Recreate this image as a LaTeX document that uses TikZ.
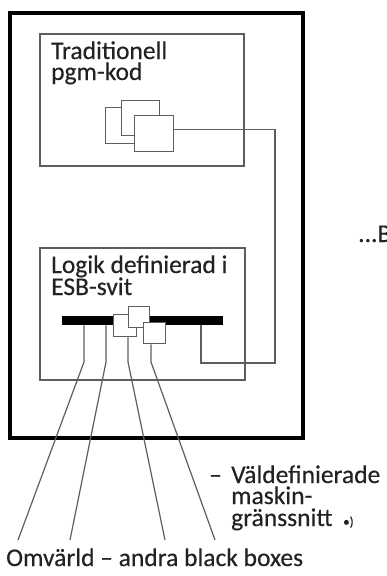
\documentclass[tikz,border=0pt]{standalone}
\usepackage{fontspec}
\setmainfont[UprightFeatures={FakeBold=0.3}]{Carlito}
\usetikzlibrary{calc}
\definecolor{lg}{HTML}{5E5E5E}
\definecolor{tc}{HTML}{222222}
\begin{document}
\begin{tikzpicture}[x=1pt,y=-1pt,
  gbox/.style={draw=lg, line width=1.4pt},
  sq/.style={draw=lg, line width=1.4pt, fill=white, inner sep=0pt, anchor=north west},
  wire/.style={draw=lg, line width=1.2pt},
  lbl/.style={font=\fontsize{25.5}{26}\selectfont, text=tc, inner sep=0pt, anchor=base west, text height=15pt, text depth=4pt}]
\useasboundingbox (0,0) rectangle (386,576);
\fill[white] (0,0) rectangle (386,576);
% outer black box
\draw[line width=4pt] (10,13) rectangle (303,438);
% inner boxes
\draw[gbox] (40,34) rectangle (244,166);
\draw[gbox] (40,248) rectangle (245,380);
% texts
\node[lbl] (t1a) at (51,59) {Traditionell};
\node[lbl] (t1b) at (51,80) {pgm-kod};
\node[lbl] (t2a) at (51,273) {Logik definierad i};
\node[lbl] (t2b) at (51,295) {ESB-svit};
\node[lbl] (dots) at (358,242) {...B};
\node[lbl] (vd) at (209,483) {–};
\node[lbl] (v1) at (231,483) {Väldefinierade};
\node[lbl] (v2) at (231,504) {maskin-};
\node[lbl] (v3) at (231,526) {gränssnitt};
\node[lbl, font=\fontsize{13}{13}\selectfont, text height=9pt, text depth=3pt] (note) at (343,526) {•)};
\node[lbl] (omv) at (6,566) {Omvärld – andra black boxes};
% upper squares
\node[sq, minimum width=37pt, minimum height=36pt] (s1) at (105,107) {};
\node[sq, minimum width=38pt, minimum height=35pt] (s2) at (121,100) {};
\node[sq, minimum width=39pt, minimum height=36pt] (s3) at (134,115) {};
% bar
\node[fill=black, inner sep=0pt, minimum width=161pt, minimum height=9pt, anchor=north west] (bar) at (62,316) {};
% lower squares
\node[sq, minimum width=23pt, minimum height=22pt] (q1) at (113,314) {};
\node[sq, minimum width=21pt, minimum height=21pt] (q2) at (128,306) {};
\node[sq, minimum width=22pt, minimum height=21pt] (q3) at (143,322) {};
% connector upper -> bar
\coordinate (c1) at ($(s3.east)+(0,-4)$);
\coordinate (c2) at (201,363);
\draw[wire] (c1) -- (c1 -| 275,0) |- (c2) -- (c2 |- bar.south);
% lines to the outside world
\coordinate (e1) at (18,540);
\coordinate (e2) at (70,540);
\coordinate (e3) at (165,540);
\coordinate (e4) at (215,540);
\draw[wire] (bar.south -| 84,0) -- (84,362) -- (e1);
\draw[wire] (bar.south -| 106,0) -- (106,362) -- (e2);
\draw[wire] (q1.south -| 128,0) -- (128,362) -- (e3);
\draw[wire] (q3.south -| 151,0) -- (151,362) -- (e4);
\end{tikzpicture}
\end{document}
